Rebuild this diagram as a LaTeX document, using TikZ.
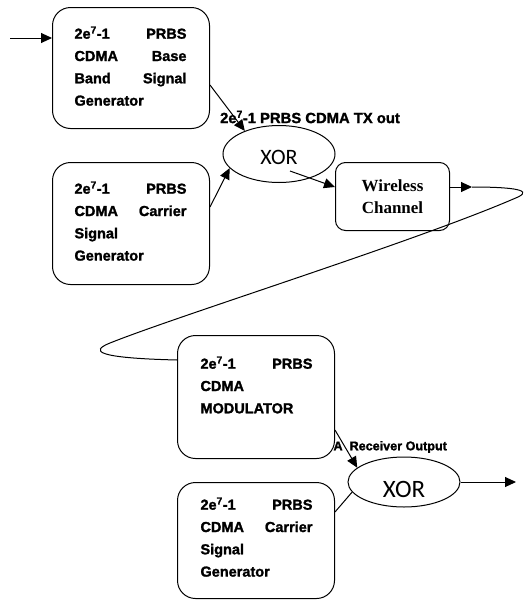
\documentclass[tikz,border=0pt]{standalone}
\usepackage{fontspec}
\setmainfont{Liberation Sans}[BoldFeatures={FakeBold=1.5}]
\newfontfamily\serifb{Liberation Serif}
\newfontfamily\xorfont{Carlito}
\usetikzlibrary{arrows.meta,shapes.geometric,calc}
\newcommand{\lineof}[2]{\makebox[112pt]{#1\hfill #2}}
\begin{document}
\begin{tikzpicture}[x=1pt,y=-1pt, line width=1pt,
  box/.style={draw, rounded corners=18pt, anchor=north west, inner sep=0pt},
  txt/.style={anchor=north west, inner sep=0pt, align=left, font=\fontsize{14.5}{22.3}\selectfont\bfseries},
  arr/.style={-{Triangle[length=11pt,width=10pt]}},
  xorell/.style={draw, ellipse, inner sep=0pt, text depth=0pt}]
\useasboundingbox (0,0) rectangle (524,603);
% boxes
\node[box, minimum width=157pt, minimum height=121pt] (b1) at (52,7) {};
\node[box, minimum width=157pt, minimum height=122pt] (b2) at (52,162) {};
\node[box, minimum width=157pt, minimum height=123pt] (b3) at (177,335) {};
\node[box, minimum width=157pt, minimum height=116pt] (b4) at (177,482) {};
\node[box, rounded corners=10pt, minimum width=114pt, minimum height=68pt, align=center,
      font=\serifb\fontsize{17}{22}\selectfont\bfseries] (w) at (335,162) {Wireless\\Channel};
% texts
\node[txt] (t1) at (74,26) {\lineof{2e\textsuperscript{7}-1}{PRBS}\\ \lineof{CDMA}{Base}\\ \lineof{Band}{Signal}\\ Generator};
\node[txt] (t2) at (74,181) {\lineof{2e\textsuperscript{7}-1}{PRBS}\\ \lineof{CDMA}{Carrier}\\ Signal\\ Generator};
\node[txt] (t3) at (200,356) {\lineof{2e\textsuperscript{7}-1}{PRBS}\\ CDMA\\ MODULATOR};
\node[txt] (t4) at (200,497) {\lineof{2e\textsuperscript{7}-1}{PRBS}\\ \lineof{CDMA}{Carrier}\\ Signal\\ Generator};
% xor
\node[xorell, minimum width=112pt, minimum height=57pt, text height=21pt, font=\xorfont\fontsize{22}{24}\selectfont] (x1) at (279,154) {XOR};
\node[xorell, minimum width=112pt, minimum height=50pt, text height=30pt, font=\xorfont\fontsize{25}{27}\selectfont] (x2) at (404,482) {XOR};
% labels
\node[font=\fontsize{14.8}{16}\selectfont\bfseries, inner sep=0pt] (l1) at (310,117) {2e\textsuperscript{7}-1 PRBS CDMA TX out};
\node[font=\fontsize{12.6}{14}\selectfont\bfseries, inner sep=0pt, anchor=west] (l2) at (333,447) {A\ \ Receiver Output};
% coordinates
\coordinate (in) at (10,38);
\coordinate (c1) at (472,187);
\coordinate (out) at (516,482);
% connectors
\draw[arr] (in) -- (in -| b1.west);
\draw[arr] ($(b1.north east)+(0,78)$) -- (x1.146);
\draw[arr] ($(b2.north east)+(0,45)$) -- (x1.196);
\draw[arr] ($(x1.center)+(11,17)$) -- ($(w.north west)+(0,25)$);
\draw[arr] ($(w.north east)+(0,25)$) -- (c1);
\draw (c1) .. controls (505,187) and (535,189) .. (518,197)
      .. controls (420,240) and (180,315) .. (110,343)
      .. controls (90,351) and (95,358) .. ($(b3.north west)+(0,25)$);
\draw[arr] ($(b3.north east)+(0,95)$) -- (x2.163);
\draw ($(b4.north east)+(0,30)$) -- (x2.191);
\draw[arr] (x2.east) -- (out);
\end{tikzpicture}
\end{document}
